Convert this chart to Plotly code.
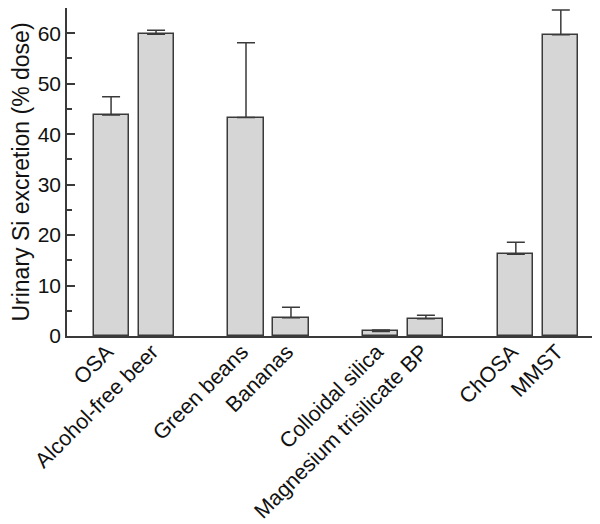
import plotly.graph_objects as go

categories = ["OSA", "Alcohol-free beer", "Green beans", "Bananas",
              "Colloidal silica", "Magnesium trisilicate BP", "ChOSA", "MMST"]
positions = [0, 1, 3, 4, 6, 7, 9, 10]
values = [43.8, 59.8, 43.3, 3.6, 0.9, 3.4, 16.2, 59.7]
errors = [3.6, 0.8, 14.8, 2.1, 0.3, 0.7, 2.4, 4.9]
zeros = [0] * len(values)

fig = go.Figure()
fig.add_trace(go.Bar(
    x=positions, y=values, width=0.78,
    marker=dict(color="#d6d6d6", line=dict(color="#3a3a3a", width=1.5)),
    error_y=dict(type="data", symmetric=False, array=errors, arrayminus=zeros,
                 color="#3a3a3a", thickness=1.5, width=9),
))

# page body has an 8px margin, so margins are shifted accordingly
fig.update_layout(
    width=600, height=524,
    margin=dict(l=59, r=13, t=0, b=196, pad=0),
    paper_bgcolor="white", plot_bgcolor="white",
    font=dict(family="Liberation Sans, Arial, sans-serif", color="#111111"),
    showlegend=False,
    bargap=0,
)
fig.update_xaxes(
    range=[-0.98, 10.76], tickmode="array", tickvals=positions, ticktext=categories,
    tickangle=-45, ticks="", showline=True, linecolor="#3a3a3a", linewidth=1.5,
    showgrid=False, zeroline=False, tickfont=dict(size=21.5), automargin=False,
    ticklabelstandoff=-7, ticklabelshift=-4,
)
fig.update_yaxes(
    range=[0, 65], tickvals=[0, 10, 20, 30, 40, 50, 60], ticks="inside", ticklen=8,
    tickwidth=1.5, tickcolor="#3a3a3a",
    minor=dict(tickvals=[5, 15, 25, 35, 45, 55, 65], ticks="inside", ticklen=5,
               tickwidth=1.5, tickcolor="#3a3a3a"),
    showline=True, linecolor="#3a3a3a", linewidth=1.5, showgrid=False, zeroline=False,
    tickfont=dict(size=21), automargin=False,
    title=dict(text="Urinary Si excretion (% dose)", font=dict(size=23), standoff=6),
)

fig.write_html("out.html")
